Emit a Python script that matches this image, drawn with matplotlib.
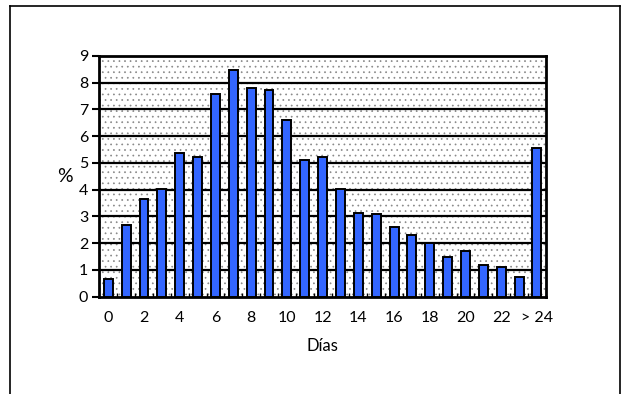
import numpy as np
import matplotlib.pyplot as plt
from matplotlib.lines import Line2D

plt.rcParams['font.family'] = ['Lato', 'DejaVu Sans']
plt.rcParams['hatch.color'] = '#888888'
plt.rcParams['hatch.linewidth'] = 0.5

# datos
dias = list(range(25))
porcentaje = [0.67, 2.68, 3.67, 4.04, 5.39, 5.24, 7.58, 8.48, 7.80, 7.73,
              6.61, 5.11, 5.24, 4.04, 3.14, 3.08, 2.61, 2.32, 2.00, 1.48,
              1.72, 1.19, 1.11, 0.74, 5.55]
etiquetas = ['0', '2', '4', '6', '8', '10', '12', '14', '16', '18', '20', '22', '> 24']

fig = plt.figure(figsize=(6.21, 3.94), dpi=100)
ax = fig.add_axes([0.160, 0.247, 0.719, 0.611])

ax.set_facecolor('white')
ax.add_patch(plt.Rectangle((0, 0), 1, 1, transform=ax.transAxes, facecolor='none',
                           edgecolor='#888888', hatch='...', linewidth=0, zorder=0))
for y in range(1, 9):
    ax.axhline(y, color='black', linewidth=1.6, zorder=1)

ax.bar(dias, porcentaje, width=0.5, color='#3366FF', edgecolor='black', linewidth=1.4, zorder=3)

ax.set_xlim(-0.5, 24.5)
ax.set_ylim(0, 9)
ax.set_yticks(range(10))
ax.set_xticks(range(0, 25, 2))
ax.set_xticklabels(etiquetas)
ax.set_xticks(np.arange(0.5, 24, 1), minor=True)
ax.tick_params(axis='x', which='major', length=0, pad=10, labelsize=11.5)
ax.tick_params(axis='x', which='minor', direction='in', length=3, width=1, color='black')
ax.tick_params(axis='y', which='major', direction='out', length=5, width=1.5, labelsize=11.5, pad=3)
for s in ax.spines.values():
    s.set_linewidth(2)

ax.set_xlabel('Días', fontsize=12, labelpad=10)
ax.set_ylabel('%', fontsize=14, rotation=0, labelpad=10, va='center')

# marco exterior
fig.add_artist(Line2D([10/621, 10/621], [0, 1 - 5.5/394], color='black', linewidth=1.2))
fig.add_artist(Line2D([10/621, 619.5/621], [1 - 5.5/394, 1 - 5.5/394], color='black', linewidth=1.2))
fig.add_artist(Line2D([619.5/621, 619.5/621], [0, 1 - 5.5/394], color='black', linewidth=1.2))

fig.savefig('out.png', dpi=100)
